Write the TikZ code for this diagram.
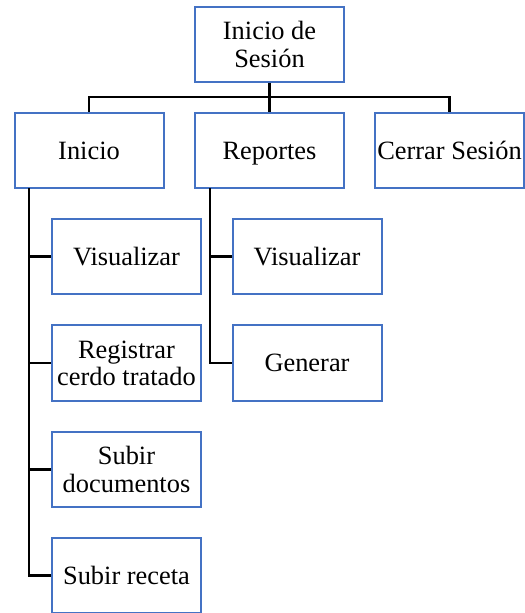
\documentclass[tikz,border=0pt]{standalone}
\usepackage{fontspec}
\setmainfont{Liberation Serif}
\definecolor{boxblue}{RGB}{68,114,196}
\begin{document}
\begin{tikzpicture}[x=0.5pt,y=-0.5pt,
  menubox/.style={draw=boxblue, line width=1pt, fill=white,
    minimum width=74.5pt, minimum height=37.5pt, inner sep=0pt,
    align=center, font=\fontsize{13.2}{13.6}\selectfont},
  link/.style={draw=black, line width=1.4pt}]
\useasboundingbox (0,0) rectangle (524,613);

% top level
\node[menubox] (top) at (269.5,44.5) {Inicio de\\Sesión};

% second level
\node[menubox] (inicio)   at (89,150.5)    {Inicio};
\node[menubox] (reportes) at (269.5,150.5) {Re\smash{p}ortes};
\node[menubox] (cerrar)   at (449.5,150.5) {Cerrar Sesión};

% children of Inicio
\node[menubox] (ivis) at (126.5,256.5) {Visualizar};
\node[menubox] (ireg) at (126.5,363)   {Registrar\\cerdo tratado};
\node[menubox] (idoc) at (126.5,469.5) {Subir\\documentos};
\node[menubox] (irec) at (126.5,575.5) {Subir receta};

% children of Reportes
\node[menubox] (rvis) at (307,256.5) {Visualizar};
\node[menubox] (rgen) at (307,363)   {Generar};

% connectors
\coordinate (bus) at (269.5,97);
\draw[link] (top.south) -- (bus);
\draw[link] (inicio.north) |- (bus) -| (cerrar.north);
\draw[link] (bus) -- (reportes.north);

\coordinate (itrunk) at (29,188.5);
\draw[link] (itrunk) |- (irec.west);
\draw[link] (itrunk |- ivis.west) -- (ivis.west);
\draw[link] (itrunk |- ireg.west) -- (ireg.west);
\draw[link] (itrunk |- idoc.west) -- (idoc.west);

\coordinate (rtrunk) at (210,188.5);
\draw[link] (rtrunk) |- (rgen.west);
\draw[link] (rtrunk |- rvis.west) -- (rvis.west);
\end{tikzpicture}
\end{document}
